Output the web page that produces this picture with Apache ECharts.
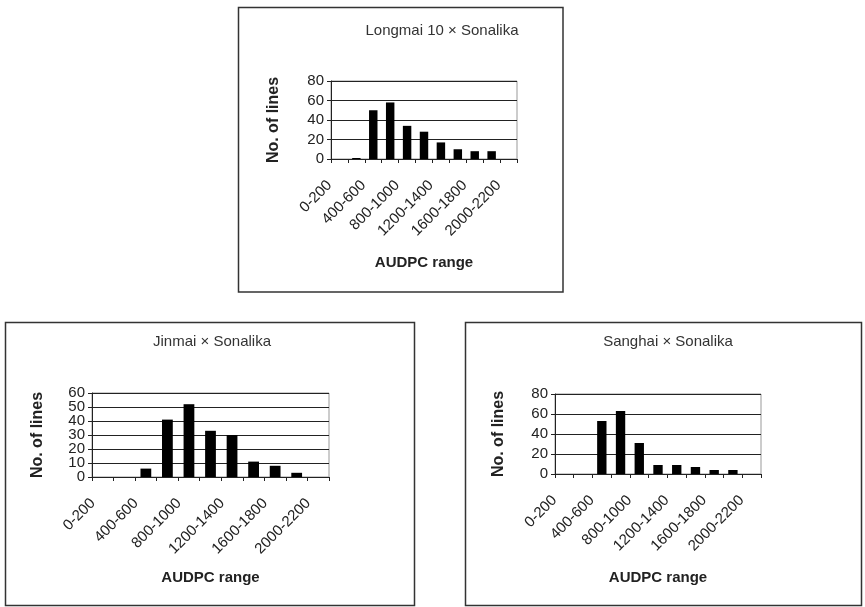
<!DOCTYPE html>
<html>
<head>
<meta charset="utf-8">
<script src="https://cdn.jsdelivr.net/npm/echarts@6/dist/echarts.min.js"></script>
<style>html,body{margin:0;padding:0;background:#fff;}#c{width:865px;height:607px;}</style>
</head>
<body>
<div id="c"></div>
<script>
var categories = ['0-200','200-400','400-600','600-800','800-1000','1000-1200','1200-1400','1400-1600','1600-1800','1800-2000','2000-2200'];
var longmaiValues = [0, 1, 50, 58, 34, 28, 17, 10, 8, 8, 0];
var jinmaiValues  = [0, 0, 6, 41, 52, 33, 30, 11, 8, 3, 0];
var sanghaiValues = [0, 0, 53, 63, 31, 9, 9, 7, 4, 4, 0];
var jinmaiTickLabelsA = [0, 20, 40, 60];
var jinmaiTickLabelsB = [10, 30, 50];
var titles = ['Longmai 10 × Sonalika', 'Jinmai × Sonalika', 'Sanghai × Sonalika'];
var xName = 'AUDPC range';
var yName = 'No. of lines';

var font = 'Liberation Sans, Arial, sans-serif';
var chart = echarts.init(document.getElementById('c'), null, {renderer: 'canvas'});

var grids = [
  {left: 331, top: 81, width: 186, height: 78},
  {left: 92, top: 393, width: 237, height: 84},
  {left: 555, top: 394, width: 206, height: 80}
];
var yMax = [80, 60, 80];
var yInt = [20, 10, 20];
var xGap = [96, 93, 96];
var yGap = [49, 46, 48];
var data = [longmaiValues, jinmaiValues, sanghaiValues];

function xAxis(i) {
  return {
    type: 'category', gridIndex: i, data: categories,
    name: xName, nameLocation: 'middle', nameGap: xGap[i],
    nameTextStyle: {fontFamily: font, fontSize: 15, fontWeight: 'bold', color: '#222'},
    axisLine: {lineStyle: {color: '#222', width: 1}},
    axisTick: {show: true, length: 4, interval: 0, lineStyle: {color: '#222'}},
    axisLabel: {interval: 1, rotate: 45, fontFamily: font, fontSize: 15, color: '#222', margin: 14, padding: [0, 14, 0, 0]},
    splitLine: {show: false}
  };
}
var labelStyle = {fontFamily: font, fontSize: 15, color: '#222', margin: 7, showMinLabel: true, showMaxLabel: true};
function yAxis(i) {
  var lbl = Object.assign({}, labelStyle);
  if (i === 1) lbl.customValues = jinmaiTickLabelsA;
  return {
    type: 'value', gridIndex: i, min: 0, max: yMax[i], interval: yInt[i],
    name: yName, nameLocation: 'middle', nameGap: yGap[i], nameRotate: 90,
    nameTextStyle: {fontFamily: font, fontSize: 16, fontWeight: 'bold', color: '#222'},
    axisLine: {show: true, lineStyle: {color: '#222', width: 1}},
    axisTick: {show: true, length: 4, lineStyle: {color: '#222'}},
    axisLabel: lbl,
    splitLine: {show: true, lineStyle: {color: '#222', width: 1}}
  };
}
var yAxes = [0, 1, 2].map(yAxis);
var lblB = Object.assign({}, labelStyle, {customValues: jinmaiTickLabelsB});
yAxes.push({
  type: 'value', gridIndex: 1, min: 0, max: yMax[1], interval: yInt[1], position: 'left',
  axisLine: {show: false}, axisTick: {show: false}, splitLine: {show: false},
  axisLabel: lblB
});

var option = {
  animation: false,
  backgroundColor: '#fff',
  grid: grids.map(function (g) {
    return {left: g.left, top: g.top, width: g.width, height: g.height, show: true, borderColor: '#999', borderWidth: 1, containLabel: false};
  }),
  xAxis: [0, 1, 2].map(xAxis),
  yAxis: yAxes,
  series: [0, 1, 2].map(function (i) {
    return {type: 'bar', xAxisIndex: i, yAxisIndex: i, data: data[i], barCategoryGap: '50%', itemStyle: {color: '#000'}};
  }),
  graphic: [
    {type: 'rect', shape: {x: 238.5, y: 7.5, width: 324.5, height: 284.5}, style: {fill: 'none', stroke: '#333', lineWidth: 1.5}, z: -1},
    {type: 'rect', shape: {x: 5.5, y: 322.5, width: 409, height: 283}, style: {fill: 'none', stroke: '#333', lineWidth: 1.5}, z: -1},
    {type: 'rect', shape: {x: 465.5, y: 322.5, width: 396, height: 283}, style: {fill: 'none', stroke: '#333', lineWidth: 1.5}, z: -1},
    {type: 'text', x: 442, y: 31, style: {text: titles[0], fontFamily: font, fontSize: 15, fill: '#333', textAlign: 'center', textVerticalAlign: 'middle'}},
    {type: 'text', x: 212, y: 342, style: {text: titles[1], fontFamily: font, fontSize: 15, fill: '#333', textAlign: 'center', textVerticalAlign: 'middle'}},
    {type: 'text', x: 668, y: 342, style: {text: titles[2], fontFamily: font, fontSize: 15, fill: '#333', textAlign: 'center', textVerticalAlign: 'middle'}}
  ]
};
chart.setOption(option);
</script>
</body>
</html>
